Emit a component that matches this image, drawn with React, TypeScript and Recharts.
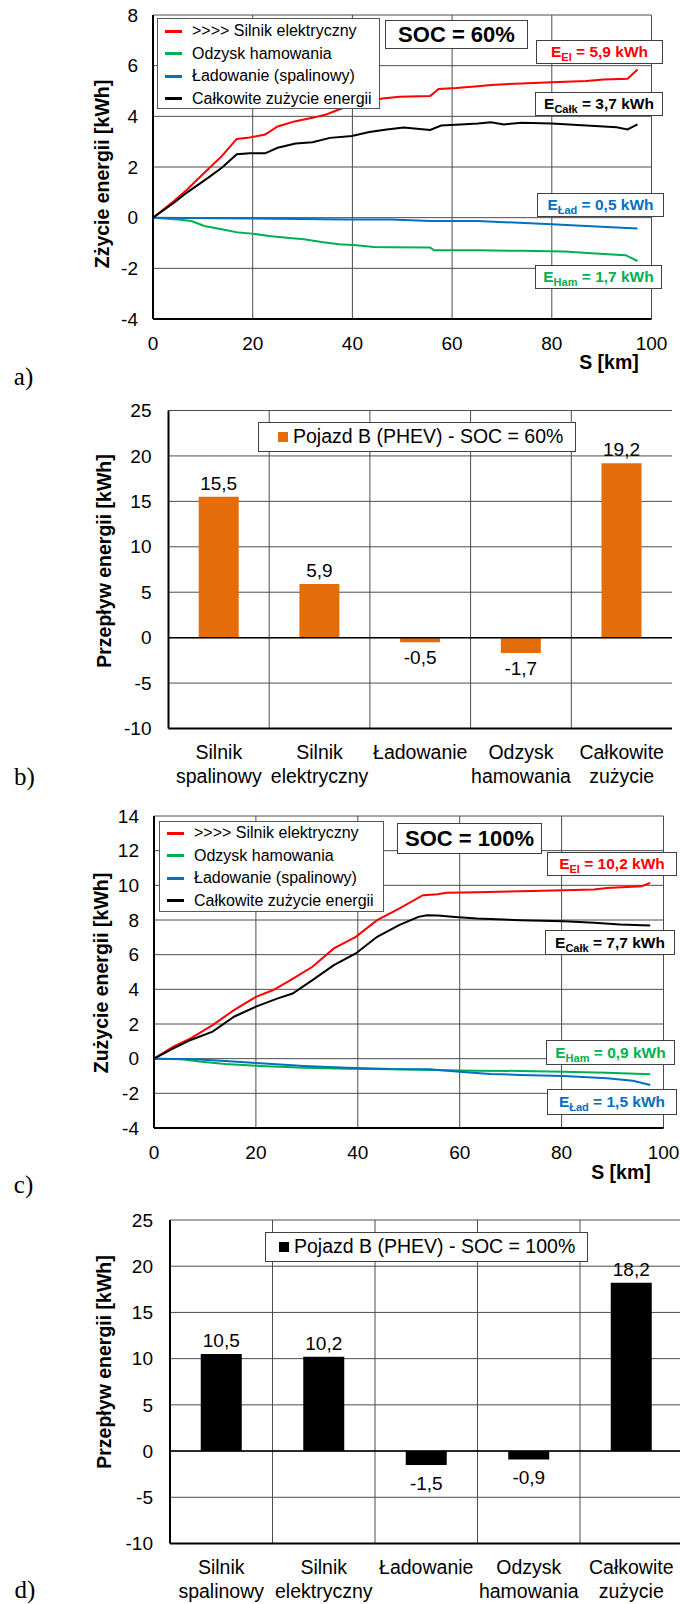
import React from 'react';
import {
  LineChart,
  Line,
  BarChart,
  Bar,
  XAxis,
  YAxis,
  CartesianGrid,
  ReferenceLine,
  LabelList,
} from 'recharts';

const FONT = '"Liberation Sans", Arial, Helvetica, sans-serif';
const SERIF = '"Liberation Serif", "Times New Roman", serif';
const RED = '#ff0000';
const GREEN = '#00b050';
const BLUE = '#0070c0';
const BLACK = '#000000';
const ORANGE = '#e46c0a';
const GRID = '#4d4d4d';

// ---------- common ticks / labels ----------
const seriesNames = [
  '>>>> Silnik elektryczny',
  'Odzysk hamowania',
  'Ładowanie (spalinowy)',
  'Całkowite zużycie energii',
];
const seriesColors = [RED, GREEN, BLUE, BLACK];
const xTicksKm = [0, 20, 40, 60, 80, 100];
const yTicksA = [-4, -2, 0, 2, 4, 6, 8];
const yTicksC = [-4, -2, 0, 2, 4, 6, 8, 10, 12, 14];
const yTicksBar = [-10, -5, 0, 5, 10, 15, 20, 25];

// ---------- chart a (SOC = 60%) ----------
const aElKm = [0, 4.2, 6.8, 10.3, 13.8, 16.8, 19, 22.5, 25, 28.6, 32, 34.7, 36.4, 39, 46, 49.5, 55.6, 57.3, 60.8, 65.2, 67.8, 73.9, 80, 86.9, 90.4, 95.2, 97.2];
const aElVal = [0, 0.66, 1.1, 1.77, 2.43, 3.11, 3.15, 3.28, 3.6, 3.81, 3.94, 4.07, 4.2, 4.4, 4.7, 4.77, 4.8, 5.08, 5.12, 5.19, 5.24, 5.3, 5.35, 5.39, 5.45, 5.48, 5.85];
const aHamKm = [0, 5, 7.7, 10.3, 13.8, 17.2, 19.9, 23.3, 26.8, 30.3, 33.8, 37.3, 40.8, 44.3, 47.7, 55.6, 56.4, 65.2, 73.9, 82.6, 88.7, 94.8, 97.2];
const aHamVal = [0, -0.07, -0.13, -0.33, -0.46, -0.59, -0.63, -0.72, -0.79, -0.85, -0.96, -1.05, -1.09, -1.16, -1.17, -1.18, -1.29, -1.29, -1.31, -1.34, -1.41, -1.48, -1.71];
const aLadKm = [0, 19.9, 39, 47.7, 55.6, 65.2, 69.5, 80, 86.9, 97.2];
const aLadVal = [0, -0.03, -0.07, -0.07, -0.13, -0.13, -0.17, -0.26, -0.33, -0.43];
const aCalkKm = [0, 4.2, 6.8, 11.1, 13.8, 16.8, 19.4, 22.5, 25, 28.6, 32, 35.5, 39.9, 43.4, 46.9, 50.3, 55.6, 57.8, 61.7, 65.2, 67.8, 70.4, 73.9, 80, 86.9, 93, 95.2, 97.2];
const aCalkVal = [0, 0.59, 0.99, 1.58, 1.97, 2.5, 2.54, 2.54, 2.76, 2.93, 2.98, 3.15, 3.22, 3.38, 3.48, 3.56, 3.46, 3.64, 3.68, 3.72, 3.77, 3.68, 3.75, 3.72, 3.64, 3.57, 3.48, 3.68];
const aTotals = [5.9, 3.7, 0.5, 1.7]; // El, Całk, Ład, Ham

// ---------- chart c (SOC = 100%) ----------
const cElKm = [0, 3.8, 7.2, 11.5, 15.7, 20, 23.4, 26.8, 31.1, 35.3, 39.6, 43.8, 48.1, 52.8, 55.7, 57.4, 63.4, 71.9, 80.4, 86.4, 88.9, 95.7, 97.4];
const cElVal = [0, 0.69, 1.17, 1.94, 2.8, 3.57, 3.96, 4.53, 5.3, 6.36, 7.03, 7.99, 8.66, 9.43, 9.49, 9.57, 9.6, 9.66, 9.72, 9.76, 9.85, 9.95, 10.14];
const cHamKm = [0, 5.5, 8.9, 14, 20.9, 29.4, 37.9, 46.4, 54.9, 63.4, 71.9, 80.4, 88.9, 97.4];
const cHamVal = [0, -0.04, -0.17, -0.31, -0.42, -0.52, -0.58, -0.61, -0.65, -0.69, -0.71, -0.75, -0.81, -0.9];
const cLadKm = [0, 8.1, 14, 20.9, 29.4, 37.9, 46.4, 54, 60, 66, 71.9, 80.4, 88.9, 94, 97.4];
const cLadVal = [0, -0.04, -0.13, -0.27, -0.42, -0.52, -0.6, -0.61, -0.75, -0.88, -0.94, -1.0, -1.13, -1.27, -1.52];
const cCalkKm = [0, 3.8, 7.2, 11.5, 15.7, 20, 24.3, 27.2, 31.1, 35.3, 39.6, 43.8, 48.1, 51.9, 53.6, 55.7, 59.1, 63.4, 71.9, 80.4, 86.4, 91.5, 97.4];
const cCalkVal = [0, 0.6, 1.08, 1.56, 2.42, 3.0, 3.48, 3.76, 4.53, 5.4, 6.07, 7.03, 7.7, 8.18, 8.28, 8.26, 8.18, 8.09, 7.99, 7.93, 7.84, 7.74, 7.68];
const cTotals = [10.2, 7.7, 0.9, 1.5]; // El, Całk, Ham, Ład

// ---------- bar charts b, d ----------
const categories = ['Silnik\nspalinowy', 'Silnik\nelektryczny', 'Ładowanie', 'Odzysk\nhamowania', 'Całkowite\nzużycie'];
const barSoc60 = [15.5, 5.9, -0.5, -1.7, 19.2];
const barSoc100 = [10.5, 10.2, -1.5, -0.9, 18.2];

// ---------- helpers ----------
const zip = (xs: number[], ys: number[]) => xs.map((x, i) => ({ x, y: ys[i] }));
const fmt = (v: number) => v.toFixed(1).replace('.', ',');

const seriesA = [zip(aElKm, aElVal), zip(aHamKm, aHamVal), zip(aLadKm, aLadVal), zip(aCalkKm, aCalkVal)];
const seriesC = [zip(cElKm, cElVal), zip(cHamKm, cHamVal), zip(cLadKm, cLadVal), zip(cCalkKm, cCalkVal)];

const BORDER = { stroke: '#000', strokeWidth: 2 };

const xTick = (p: any) => (
  <text x={p.x} y={p.y + 30.5} textAnchor="middle" fontSize={19} fontFamily={FONT} fill="#000">
    {String(p.payload.value)}
  </text>
);
const yTick = (p: any) => (
  <text x={p.x} y={p.y + 6.7} textAnchor="end" fontSize={19} fontFamily={FONT} fill="#000">
    {String(p.payload.value)}
  </text>
);
const catTick = (p: any) => {
  const lines = String(p.payload.value).split('\n');
  return (
    <g>
      {lines.map((l, i) => (
        <text key={i} x={p.x} y={p.y + 30.5 + i * 23.5} textAnchor="middle" fontSize={19.5} fontFamily={FONT} fill="#000">
          {l}
        </text>
      ))}
    </g>
  );
};

function LineBlock({ top, height, margin, yDomain, yTicks, series }: any) {
  return (
    <div style={{ position: 'absolute', left: 0, top, width: 680, height }}>
      <LineChart width={680} height={height} margin={margin}>
        <CartesianGrid stroke={GRID} strokeWidth={1} />
        <XAxis type="number" dataKey="x" domain={[0, 100]} ticks={xTicksKm} interval={0} tickLine={false} tickSize={0} tickMargin={0} height={40} axisLine={BORDER} tick={xTick} allowDataOverflow />
        <XAxis xAxisId="top" orientation="top" type="number" domain={[0, 100]} tick={false} tickLine={false} height={0} axisLine={BORDER} />
        <YAxis type="number" domain={yDomain} ticks={yTicks} interval={0} tickLine={false} tickSize={0} tickMargin={15} width={60} axisLine={BORDER} tick={yTick} allowDataOverflow />
        <YAxis yAxisId="right" orientation="right" type="number" domain={[0, 1]} tick={false} tickLine={false} width={0} axisLine={BORDER} />
        {series.map((d: any, i: number) => (
          <Line key={seriesNames[i]} data={d} dataKey="y" type="linear" stroke={seriesColors[i]} strokeWidth={2} dot={false} activeDot={false} isAnimationActive={false} />
        ))}
      </LineChart>
    </div>
  );
}

const vertGen = (props: any) => {
  const o = props.offset || {};
  const left = o.left ?? props.xAxis?.x ?? 0;
  const w = o.width ?? props.xAxis?.width ?? 0;
  const n = categories.length;
  return Array.from({ length: n - 1 }, (_, i) => left + ((i + 1) * w) / n);
};

function BarBlock({ top, height, width, margin, values, color, negOffset }: any) {
  const rows = categories.map((name, i) => ({ name, value: values[i] }));
  const label = (p: any) => {
    const { x, y, width: w, height: h, value } = p;
    const t = Math.min(y, y + h);
    const b = Math.max(y, y + h);
    const ty = value >= 0 ? t - 7 : b + negOffset;
    return (
      <text x={x + w / 2} y={ty} textAnchor="middle" fontSize={19} fontFamily={FONT} fill="#000">
        {fmt(value)}
      </text>
    );
  };
  return (
    <div style={{ position: 'absolute', left: 0, top, width, height }}>
      <BarChart width={width} height={height} data={rows} margin={margin} barCategoryGap="30%">
        <CartesianGrid stroke={GRID} strokeWidth={1} verticalCoordinatesGenerator={vertGen} />
        <XAxis dataKey="name" type="category" interval={0} tickLine={false} tickSize={0} tickMargin={0} height={60} axisLine={BORDER} tick={catTick} />
        <XAxis xAxisId="top" dataKey="name" orientation="top" tick={false} tickLine={false} height={0} axisLine={BORDER} />
        <YAxis type="number" domain={[-10, 25]} ticks={yTicksBar} interval={0} tickLine={false} tickSize={0} tickMargin={17} width={60} axisLine={BORDER} tick={yTick} />
        <YAxis yAxisId="right" orientation="right" type="number" domain={[0, 1]} tick={false} tickLine={false} width={0} axisLine={BORDER} />
        <Bar dataKey="value" fill={color} isAnimationActive={false}>
          <LabelList dataKey="value" content={label} />
        </Bar>
        <ReferenceLine y={0} stroke="#000" strokeWidth={1.5} />
      </BarChart>
    </div>
  );
}

// ---------- overlays ----------
const Box = ({ left, top, width, height, children, style }: any) => (
  <div
    style={{
      position: 'absolute', left, top, width, height, boxSizing: 'border-box',
      border: '1px solid #404040', background: '#fff', display: 'flex',
      alignItems: 'center', justifyContent: 'center', fontFamily: FONT, ...style,
    }}
  >
    {children}
  </div>
);

const ELabel = ({ sub, value, color, left, top, width, height }: any) => (
  <Box left={left} top={top} width={width} height={height}>
    <span style={{ color, fontWeight: 'bold', fontSize: 15.5, whiteSpace: 'nowrap', lineHeight: 1 }}>
      E<span style={{ fontSize: 11, position: 'relative', top: 4 }}>{sub}</span> = {fmt(value)} kWh
    </span>
  </Box>
);

const SocBox = ({ text, left, top, width, height }: any) => (
  <Box left={left} top={top} width={width} height={height}>
    <span style={{ fontWeight: 'bold', fontSize: 22, whiteSpace: 'nowrap', lineHeight: 1 }}>{text}</span>
  </Box>
);

const LineLegend = ({ left, top, width, height, rowTop }: any) => (
  <div style={{ position: 'absolute', left, top, width, height, boxSizing: 'border-box', border: '1px solid #555', background: '#fff', fontFamily: FONT }}>
    {seriesNames.map((n, i) => (
      <div key={n} style={{ position: 'absolute', left: 0, top: rowTop + i * 22.6 - 10, height: 20, display: 'flex', alignItems: 'center' }}>
        <div style={{ marginLeft: 7, width: 17, height: 3, background: seriesColors[i] }} />
        <div style={{ marginLeft: 10, fontSize: 16, whiteSpace: 'nowrap', lineHeight: 1 }}>{n}</div>
      </div>
    ))}
  </div>
);

const BarLegend = ({ left, top, width, height, color, text, padLeft }: any) => (
  <div style={{ position: 'absolute', left, top, width, height, boxSizing: 'border-box', border: '1px solid #404040', background: '#fff', fontFamily: FONT, display: 'flex', alignItems: 'center' }}>
    <div style={{ marginLeft: padLeft, width: 10, height: 10, background: color }} />
    <div style={{ marginLeft: 5, fontSize: 19.5, whiteSpace: 'nowrap', lineHeight: 1 }}>{text}</div>
  </div>
);

const CenterText = ({ cx, cy, rotate, style, children }: any) => (
  <div
    style={{
      position: 'absolute', left: cx, top: cy, whiteSpace: 'nowrap', lineHeight: 1,
      transform: `translate(-50%, -50%)${rotate ? ` rotate(${rotate}deg)` : ''}`,
      fontFamily: FONT, ...style,
    }}
  >
    {children}
  </div>
);

const AXIS_TITLE = { fontWeight: 'bold', fontSize: 19.5 };
const LETTER = { fontFamily: SERIF, fontSize: 25 };

export default function App() {
  return (
    <div style={{ position: 'absolute', left: 0, top: 0, width: 680, height: 1604, overflow: 'hidden', background: '#fff' }}>
      {/* a) */}
      <LineBlock top={0} height={380} margin={{ top: 15, right: 28.5, bottom: 21, left: 93 }} yDomain={[-4, 8]} yTicks={yTicksA} series={seriesA} />
      <LineLegend left={157} top={18} width={223} height={91} rowTop={12} />
      <SocBox text="SOC = 60%" left={385} top={20} width={143} height={29} />
      <ELabel sub="El" value={aTotals[0]} color={RED} left={536} top={40} width={127} height={24} />
      <ELabel sub="Całk" value={aTotals[1]} color={BLACK} left={535} top={92} width={128} height={24} />
      <ELabel sub="Ład" value={aTotals[2]} color={BLUE} left={537} top={193} width={127} height={24} />
      <ELabel sub="Ham" value={aTotals[3]} color={GREEN} left={535} top={265} width={127} height={24} />
      <CenterText cx={103} cy={174} rotate={-90} style={AXIS_TITLE}>Zżycie energii [kWh]</CenterText>
      <CenterText cx={609} cy={363} style={AXIS_TITLE}>S [km]</CenterText>
      <CenterText cx={23.5} cy={376} style={LETTER}>a)</CenterText>

      {/* b) */}
      <BarBlock top={400} height={400} width={680} margin={{ top: 10.5, right: 8, bottom: 11.5, left: 108.5 }} values={barSoc60} color={ORANGE} negOffset={22} />
      <BarLegend left={258} top={422} width={318} height={30} color={ORANGE} padLeft={19} text="Pojazd B (PHEV) - SOC = 60%" />
      <CenterText cx={104.5} cy={561} rotate={-90} style={AXIS_TITLE}>Przepływ energii [kWh]</CenterText>
      <CenterText cx={24.5} cy={776} style={LETTER}>b)</CenterText>

      {/* c) */}
      <LineBlock top={790} height={400} margin={{ top: 26, right: 16.5, bottom: 22, left: 94 }} yDomain={[-4, 14]} yTicks={yTicksC} series={seriesC} />
      <LineLegend left={159} top={821} width={225} height={91} rowTop={11} />
      <SocBox text="SOC = 100%" left={397} top={823} width={145} height={31} />
      <ELabel sub="El" value={cTotals[0]} color={RED} left={547} top={852} width={130} height={24} />
      <ELabel sub="Całk" value={cTotals[1]} color={BLACK} left={545} top={930} width={130} height={25} />
      <ELabel sub="Ham" value={cTotals[2]} color={GREEN} left={546} top={1040} width={129} height={25} />
      <ELabel sub="Ład" value={cTotals[3]} color={BLUE} left={547} top={1089} width={130} height={26} />
      <CenterText cx={102} cy={973} rotate={-90} style={AXIS_TITLE}>Zużycie energii [kWh]</CenterText>
      <CenterText cx={621} cy={1173} style={AXIS_TITLE}>S [km]</CenterText>
      <CenterText cx={23.5} cy={1184} style={LETTER}>c)</CenterText>

      {/* d) */}
      <BarBlock top={1200} height={404} width={700} margin={{ top: 20, right: 17.5, bottom: 0.5, left: 110 }} values={barSoc100} color={BLACK} negOffset={25} />
      <BarLegend left={265} top={1232} width={323} height={30} color={BLACK} padLeft={13} text="Pojazd B (PHEV) - SOC = 100%" />
      <CenterText cx={104.5} cy={1362} rotate={-90} style={AXIS_TITLE}>Przepływ energii [kWh]</CenterText>
      <CenterText cx={25} cy={1589} style={LETTER}>d)</CenterText>
    </div>
  );
}
